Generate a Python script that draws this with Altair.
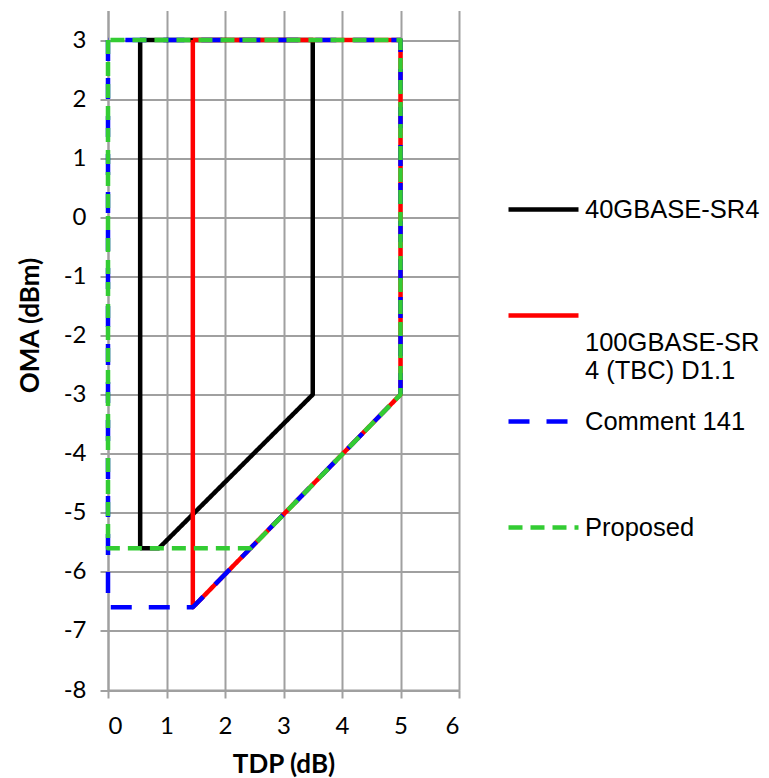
import altair as alt
import pandas as pd

series = ["40GBASE-SR4", "100GBASE-SR4 (TBC) D1.1", "Comment 141", "Proposed"]
colors = ["#000000", "#FF0000", "#0000FF", "#33CC33"]
dashes = [[1, 0], [1, 0], [21, 17], [14, 8]]

sr40_x = [0.55, 0.55, 3.5, 3.5, 0.87, 0.55]
sr40_y = [-5.6, 3.0, 3.0, -3.0, -5.6, -5.6]
sr100_x = [1.45, 1.45, 5.0, 5.0, 1.45]
sr100_y = [3.0, -6.6, -3.0, 3.0, 3.0]
c141_x = [0.0, 0.0, 1.45, 5.0, 5.0, 0.0]
c141_y = [3.0, -6.6, -6.6, -3.0, 3.0, 3.0]
prop_x = [0.0, 0.0, 2.44, 5.0, 5.0, 0.0]
prop_y = [3.0, -5.6, -5.6, -3.0, 3.0, 3.0]

x_ticks = [0, 1, 2, 3, 4, 5, 6]
y_ticks = [-8, -7, -6, -5, -4, -3, -2, -1, 0, 1, 2, 3]

rows = []
for name, xs, ys in zip(series, [sr40_x, sr100_x, c141_x, prop_x],
                        [sr40_y, sr100_y, c141_y, prop_y]):
    for i, (xv, yv) in enumerate(zip(xs, ys)):
        rows.append({"series": name, "i": i, "tdp": xv, "oma": yv})
df = pd.DataFrame(rows)

GRID = "#A0A0A0"

x_enc = alt.X("tdp:Q", scale=alt.Scale(domain=[0, 6], nice=False, zero=False),
              axis=alt.Axis(values=x_ticks, title="TDP (dB)", titleY=74,
                            titleBaseline="middle", labelPadding=16,
                            labelExpr="'' + datum.value"))
y_enc = alt.Y("oma:Q", scale=alt.Scale(domain=[-8, 3.5], nice=False, zero=False),
              axis=alt.Axis(values=y_ticks, title="OMA (dBm)", titleX=-78,
                            titleY=314.5, titleBaseline="middle", titleAngle=270,
                            labelPadding=14, labelExpr="'' + datum.value"))

legend = alt.Legend(
    orient="none", legendX=398, legendY=161.5,
    symbolType="stroke", symbolSize=4900, symbolStrokeWidth=4.5,
    labelFont="Liberation Sans", labelFontSize=25.5, labelColor="#000000",
    labelOffset=4, labelLimit=400, rowPadding=0,
    padding=0,
    labelExpr=("datum.label == '100GBASE-SR4 (TBC) D1.1' ? "
               "['', '100GBASE-SR', '4 (TBC) D1.1'] : "
               "[datum.label, ' ', ' ']"),
)

layers = []
for name in series:
    layers.append(
        alt.Chart(df)
        .transform_filter(alt.datum.series == name)
        .mark_line(strokeWidth=4.5, strokeCap="butt", strokeJoin="round")
        .encode(
            x=x_enc,
            y=y_enc,
            order=alt.Order("i:Q"),
            color=alt.Color("series:N", title=None,
                            scale=alt.Scale(domain=series, range=colors),
                            legend=legend),
            strokeDash=alt.StrokeDash("series:N", title=None,
                                      scale=alt.Scale(domain=series, range=dashes),
                                      legend=legend),
        )
    )

chart = (
    alt.layer(*layers)
    .properties(width=351, height=679.5,
                autosize=alt.AutoSizeParams(type="none"),
                padding={"left": 100, "top": 2.5, "right": 302, "bottom": 90})
    .configure_view(strokeWidth=0)
    .configure_axis(
        grid=True, gridColor=GRID, gridWidth=2,
        domainColor=GRID, domainWidth=2,
        tickColor=GRID, tickWidth=2, tickSize=8,
        labelFont="Lato", labelFontSize=24, labelColor="#000000",
        titleFont="Lato", titleFontSize=26, titleFontWeight="bold",
        titleColor="#000000",
    )
)

chart.save("out.html", embed_options={"renderer": "svg", "actions": False})
